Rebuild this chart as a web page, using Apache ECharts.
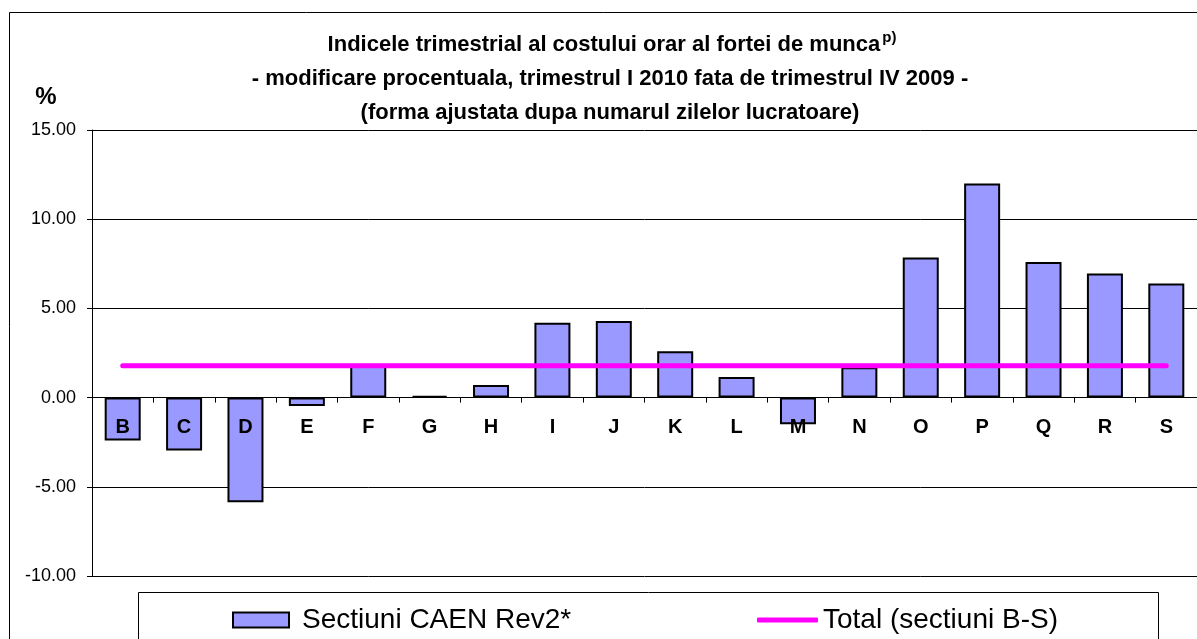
<!DOCTYPE html>
<html>
<head>
<meta charset="utf-8">
<script src="https://cdn.jsdelivr.net/npm/echarts@6/dist/echarts.min.js"></script>
<style>
html,body{margin:0;padding:0;background:#fff;}
#chart{width:1197px;height:639px;}
</style>
</head>
<body>
<div id="chart"></div>
<script>
// ---- data ----
const categories = ['B','C','D','E','F','G','H','I','J','K','L','M','N','O','P','Q','R','S'];
const sectionValues = [-2.40, -2.96, -5.86, -0.47, 1.85, 0.10, 0.70, 4.20, 4.30, 2.60, 1.15, -1.50, 1.70, 7.85, 12.00, 7.60, 6.95, 6.40];
const totalValues = [1.78, 1.78, 1.78, 1.78, 1.78, 1.78, 1.78, 1.78, 1.78, 1.78, 1.78, 1.78, 1.78, 1.78, 1.78, 1.78, 1.78, 1.78];
const seriesNames = ['Sectiuni CAEN Rev2*', 'Total (sectiuni B-S)'];
const titleLines = [
  'Indicele trimestrial al costului orar al fortei de munca',
  '- modificare procentuala, trimestrul I 2010 fata de trimestrul IV 2009 -',
  '(forma ajustata dupa numarul zilelor lucratoare)'
];
const titleSup = 'p)';
const yUnit = '%';
const yMin = -10, yMax = 15, yStep = 5;

const FONT = "'Liberation Sans', Arial, sans-serif";
const GRID_TOP = 130, GRID_H = 446;
// pixel offset that moves the category axis from the grid bottom up to the zero line
const zeroOffset = -GRID_H * (0 - yMin) / (yMax - yMin);

const chart = echarts.init(document.getElementById('chart'));

const titleStyleBase = { fontFamily: FONT, fontWeight: 'bold', fontSize: 22, fill: '#000', align: 'center', verticalAlign: 'middle' };

chart.setOption({
  animation: false,
  backgroundColor: '#ffffff',
  graphic: [
    { type: 'rect', silent: true, z: -10,
      shape: { x: 9.5, y: 12.5, width: 1200, height: 700 },
      style: { fill: 'none', stroke: '#000', lineWidth: 1 } },
    { type: 'rect', silent: true, z: -10,
      shape: { x: 138.5, y: 592.5, width: 1020, height: 100 },
      style: { fill: '#fff', stroke: '#000', lineWidth: 1 } },
    { type: 'text', silent: true, x: 612, y: 45,
      style: Object.assign({}, titleStyleBase, {
        text: '{a|' + titleLines[0] + '}{sup|' + titleSup + '}',
        rich: {
          a: { fontFamily: FONT, fontWeight: 'bold', fontSize: 22, fill: '#000' },
          sup: { fontFamily: FONT, fontWeight: 'bold', fontSize: 15, fill: '#000', verticalAlign: 'top', padding: [0, 0, 14, 2] }
        }
      }) },
    { type: 'text', silent: true, x: 610, y: 79,
      style: Object.assign({}, titleStyleBase, { text: titleLines[1] }) },
    { type: 'text', silent: true, x: 610, y: 113,
      style: Object.assign({}, titleStyleBase, { text: titleLines[2] }) },
    { type: 'text', silent: true, x: 46, y: 97,
      style: { text: yUnit, fontFamily: FONT, fontWeight: 'bold', fontSize: 24, fill: '#000', align: 'center', verticalAlign: 'middle' } }
  ],
  legend: [
    {
      data: [seriesNames[0]],
      left: 232, top: 606, padding: 0,
      itemWidth: 56, itemHeight: 15,
      icon: 'rect',
      textStyle: { fontFamily: FONT, fontSize: 28, color: '#000', padding: [0, 0, 0, 8] }
    },
    {
      data: [{ name: seriesNames[1], icon: 'roundRect' }],
      left: 757, top: 606, padding: 0,
      itemWidth: 61, itemHeight: 5,
      itemStyle: { color: '#FF00FF', borderWidth: 0 },
      textStyle: { fontFamily: FONT, fontSize: 28, color: '#000' }
    }
  ],
  grid: { left: 92, top: GRID_TOP, width: 1114, height: GRID_H, containLabel: false },
  xAxis: {
    type: 'category',
    data: categories,
    z: 5,
    position: 'bottom',
    offset: zeroOffset,
    boundaryGap: true,
    axisLine: { onZero: false, lineStyle: { color: '#000', width: 1 } },
    axisTick: { show: true, length: 5, inside: false, alignWithLabel: false, lineStyle: { color: '#000', width: 1 } },
    axisLabel: { margin: 20, fontFamily: FONT, fontWeight: 'bold', fontSize: 20, color: '#000', interval: 0 },
    splitLine: { show: false }
  },
  yAxis: {
    type: 'value',
    min: yMin, max: yMax, interval: yStep,
    axisLine: { show: true, lineStyle: { color: '#000', width: 1 } },
    axisTick: { show: true, length: 5, lineStyle: { color: '#000', width: 1 } },
    axisLabel: { margin: 16, fontFamily: FONT, fontSize: 18, color: '#000', formatter: v => v.toFixed(2) },
    splitLine: { show: true, lineStyle: { color: '#000', width: 1 } }
  },
  series: [
    {
      name: seriesNames[0],
      type: 'bar',
      data: sectionValues,
      barWidth: 36,
      z: 2,
      itemStyle: { color: '#9999FF', borderColor: '#000', borderWidth: 2 }
    },
    {
      name: seriesNames[1],
      type: 'line',
      data: totalValues,
      z: 4,
      symbol: 'none',
      lineStyle: { color: '#FF00FF', width: 5, cap: 'round' },
      itemStyle: { color: '#FF00FF' }
    }
  ]
});
</script>
</body>
</html>
